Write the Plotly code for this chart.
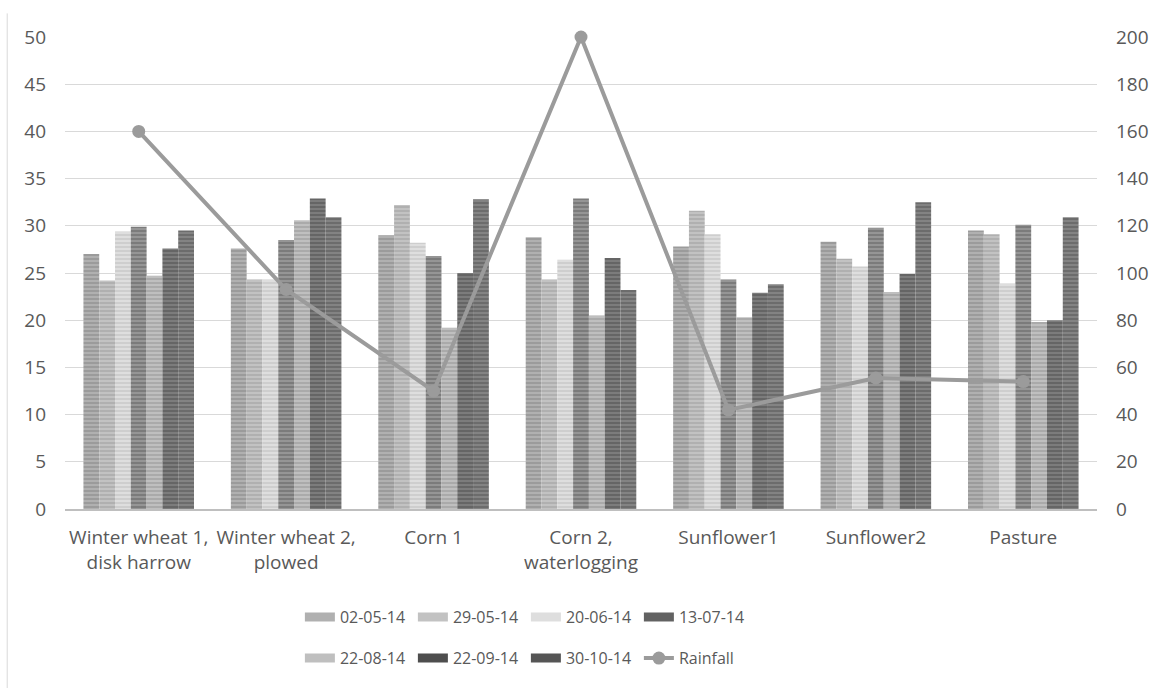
import plotly.graph_objects as go

# Sampling sites (x categories)
categories = [
    "Winter wheat 1,<br>disk harrow",
    "Winter wheat 2,<br>plowed",
    "Corn 1",
    "Corn 2,<br>waterlogging",
    "Sunflower1",
    "Sunflower2",
    "Pasture",
]

# Measurement dates (bar series names)
dates = ["02-05-14", "29-05-14", "20-06-14", "13-07-14", "22-08-14", "22-09-14", "30-10-14"]

# Bar values per date, one entry per site (left axis)
v_02_05 = [27.0, 27.6, 29.0, 28.8, 27.8, 28.3, 29.5]
v_29_05 = [24.2, 24.3, 32.2, 24.3, 31.6, 26.5, 29.1]
v_20_06 = [29.4, 24.3, 28.2, 26.4, 29.1, 25.7, 23.9]
v_13_07 = [29.9, 28.5, 26.8, 32.9, 24.3, 29.8, 30.1]
v_22_08 = [24.7, 30.6, 19.2, 20.5, 20.3, 23.0, 19.8]
v_22_09 = [27.6, 32.9, 25.0, 26.6, 22.9, 24.9, 20.0]
v_30_10 = [29.5, 30.9, 32.8, 23.2, 23.8, 32.5, 30.9]
series_values = [v_02_05, v_29_05, v_20_06, v_13_07, v_22_08, v_22_09, v_30_10]

# Rainfall per site (right axis)
rainfall = [160, 93, 50, 200, 42, 55.5, 54]

# Striped grey fills: (background, stripe)
fills = [
    ("#b0b0b0", "#858585"),
    ("#c2c2c2", "#9e9e9e"),
    ("#dedede", "#bdbdbd"),
    ("#959595", "#626262"),
    ("#bfbfbf", "#969696"),
    ("#7c7c7c", "#4e4e4e"),
    ("#838383", "#555555"),
]

TEXT = "#595959"
FONT = "Open Sans"
AXIS_SIZE = 19
LEGEND_SIZE = 16

fig = go.Figure()

for name, vals, (bg, fg) in zip(dates, series_values, fills):
    fig.add_trace(go.Bar(
        x=categories, y=vals, name=name, showlegend=False,
        marker=dict(
            color=bg, line=dict(width=0),
            pattern=dict(shape="-", size=4, solidity=0.5, fgcolor=fg, bgcolor=bg),
        ),
    ))

# Legend entries: wide swatches, four per row
for i, (name, (bg, fg)) in enumerate(zip(dates, fills)):
    fig.add_trace(go.Scatter(
        x=[None], y=[None], mode="lines", name=name,
        line=dict(color=fg if i in (3, 5, 6) else bg, width=9),
        legend="legend" if i < 4 else "legend2",
        hoverinfo="skip",
    ))

fig.add_trace(go.Scatter(
    x=categories, y=rainfall, name="Rainfall", yaxis="y2",
    mode="lines+markers", cliponaxis=False,
    line=dict(color="#9b9b9b", width=4),
    marker=dict(color="#9b9b9b", size=13),
    legend="legend2",
))

legend_common = dict(
    orientation="h", x=0.2276, xanchor="left", yanchor="middle",
    font=dict(family=FONT, size=LEGEND_SIZE, color=TEXT),
    entrywidth=68, itemwidth=30, bgcolor="rgba(0,0,0,0)",
)

tickfont = dict(family=FONT, size=AXIS_SIZE, color=TEXT)

fig.update_layout(
    width=1161, height=688,
    margin=dict(l=65, r=59, t=37, b=179),
    paper_bgcolor="white", plot_bgcolor="white",
    font=dict(family=FONT, size=AXIS_SIZE, color=TEXT),
    barmode="group", bargap=0.25, bargroupgap=0,
    xaxis=dict(
        showline=True, linecolor="#bfbfbf", linewidth=2,
        ticks="", showgrid=False, ticklabelstandoff=10,
        tickfont=tickfont,
    ),
    yaxis=dict(
        range=[0, 50], dtick=5, showgrid=True, gridcolor="#d9d9d9", gridwidth=1,
        zeroline=False, showline=False, ticks="", ticklabelstandoff=18,
        tickfont=tickfont,
    ),
    yaxis2=dict(
        overlaying="y", side="right", range=[0, 200], dtick=20,
        showgrid=False, zeroline=False, showline=False, ticks="", ticklabelstandoff=18,
        tickfont=tickfont,
    ),
    legend=dict(y=-0.229, **legend_common),
    legend2=dict(y=-0.316, **legend_common),
    shapes=[dict(
        type="line", xref="paper", yref="paper",
        x0=-0.056, x1=-0.056, y0=1.05, y1=-0.4,
        line=dict(color="#d9d9d9", width=1),
    )],
)

fig.write_html("out.html")
